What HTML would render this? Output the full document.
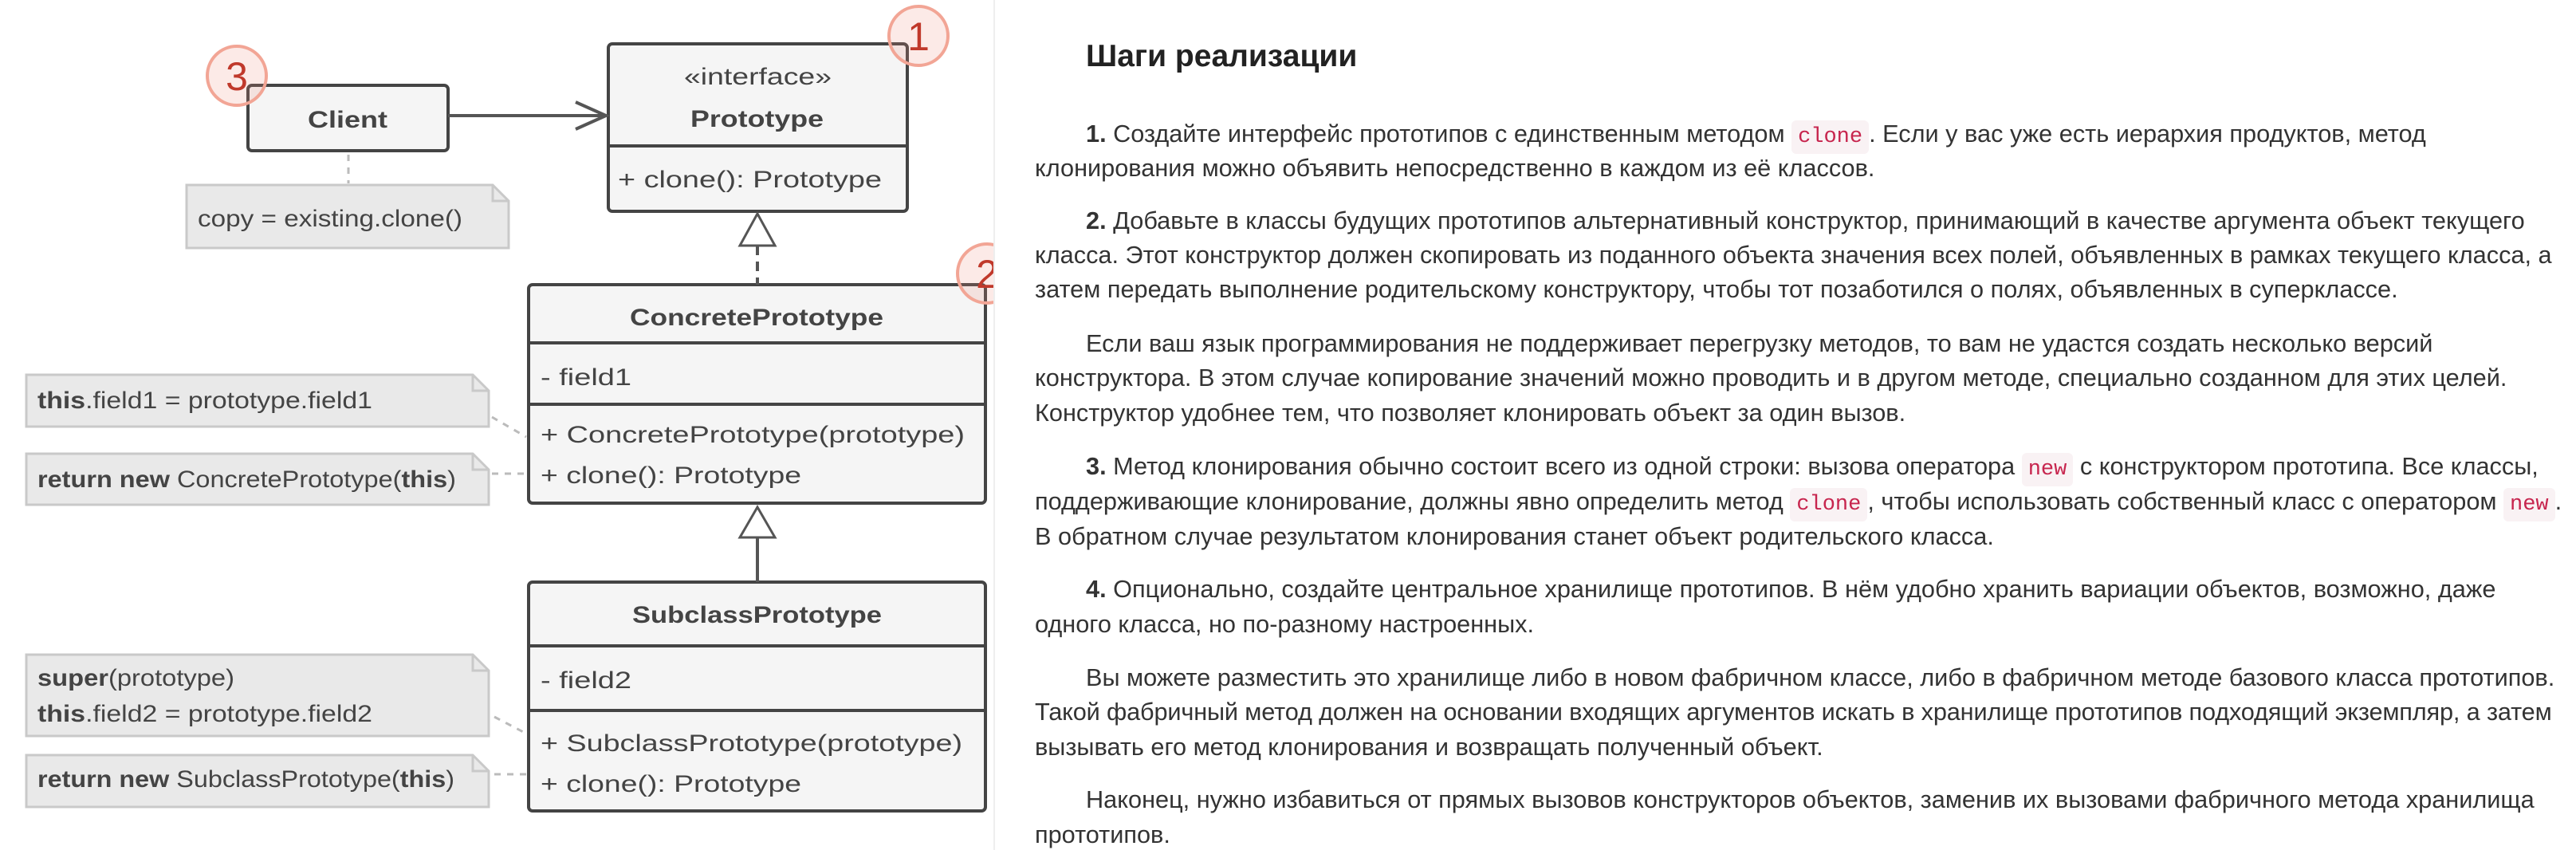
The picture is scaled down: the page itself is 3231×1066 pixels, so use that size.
<!DOCTYPE html>
<html><head><meta charset="utf-8">
<style>
html,body{margin:0;padding:0;background:#fff;}
body{width:3231px;height:1066px;position:relative;overflow:hidden;}
svg{position:absolute;left:0;top:0;}
.l{position:absolute;white-space:nowrap;font-family:"Liberation Sans",Arial,sans-serif;font-size:30.7px;line-height:35px;color:#333;}
.l code{font-family:"Liberation Mono",monospace;font-size:27px;color:#c7254e;background:#f9f2f4;border-radius:6px;padding:6px 8px;}
h2{position:absolute;margin:0;left:1362px;top:50px;font-family:"Liberation Sans",Arial,sans-serif;font-size:39px;line-height:42px;font-weight:bold;color:#222;white-space:nowrap;}
.div{position:absolute;left:1246px;top:0;width:2px;height:1066px;background:#eee;}
</style></head><body>
<svg width="1246" height="1066" viewBox="0 0 1246 1066" font-family="Liberation Sans, Arial, sans-serif" fill="#444">
<g stroke="#444" stroke-width="4" fill="#f5f5f5">
<rect x="311" y="107" width="251" height="82" rx="5"/>
<rect x="763" y="55" width="375" height="210" rx="5"/>
<line x1="763" y1="183" x2="1138" y2="183"/>
<rect x="663" y="357" width="573" height="274" rx="5"/>
<line x1="663" y1="430" x2="1236" y2="430"/>
<line x1="663" y1="507" x2="1236" y2="507"/>
<rect x="663" y="730" width="573" height="287" rx="5"/>
<line x1="663" y1="810" x2="1236" y2="810"/>
<line x1="663" y1="891" x2="1236" y2="891"/>
</g>
<g stroke="#c9c9c9" stroke-width="3" fill="#e9e9e9">
<path d="M234 232 H618 L638 252 V311 H234 Z"/><path d="M618 232 V252 H638" fill="none"/>
<path d="M33 470 H593 L613 490 V535 H33 Z"/><path d="M593 470 V490 H613" fill="none"/>
<path d="M33 569 H593 L613 589 V633 H33 Z"/><path d="M593 569 V589 H613" fill="none"/>
<path d="M33 821 H593 L613 841 V923 H33 Z"/><path d="M593 821 V841 H613" fill="none"/>
<path d="M33 947 H593 L613 967 V1012 H33 Z"/><path d="M593 947 V967 H613" fill="none"/>
</g>
<g stroke="#555" stroke-width="4" fill="none">
<line x1="562" y1="145" x2="758" y2="145"/>
<polyline points="722,128 760,145 722,162"/>
<line x1="950" y1="308" x2="950" y2="357" stroke-dasharray="12,8"/>
<line x1="950" y1="674" x2="950" y2="730"/>
<polygon points="950,268 972,308 928,308" fill="#fff" stroke-width="3"/>
<polygon points="950,636 972,674 928,674" fill="#fff" stroke-width="3"/>
</g>
<g stroke="#bbb" stroke-width="3" stroke-dasharray="8,8" fill="none">
<line x1="437" y1="194" x2="437" y2="230"/>
<line x1="617" y1="523" x2="660" y2="548"/>
<line x1="617" y1="594" x2="660" y2="594"/>
<line x1="620" y1="899" x2="662" y2="921"/>
<line x1="620" y1="971" x2="660" y2="971"/>
</g>
<g font-size="30">
<text x="386" y="160" font-weight="bold" textLength="100" lengthAdjust="spacingAndGlyphs">Client</text>
<text x="858" y="106" textLength="185" lengthAdjust="spacingAndGlyphs">«interface»</text>
<text x="866" y="159" font-weight="bold" textLength="167" lengthAdjust="spacingAndGlyphs">Prototype</text>
<text x="775" y="235" textLength="331" lengthAdjust="spacingAndGlyphs">+ clone(): Prototype</text>
<text x="248" y="284" textLength="332" lengthAdjust="spacingAndGlyphs">copy = existing.clone()</text>
<text x="790" y="408" font-weight="bold" textLength="318" lengthAdjust="spacingAndGlyphs">ConcretePrototype</text>
<text x="678" y="483" textLength="114" lengthAdjust="spacingAndGlyphs">- field1</text>
<text x="678" y="555" textLength="532" lengthAdjust="spacingAndGlyphs">+ ConcretePrototype(prototype)</text>
<text x="678" y="606" textLength="327" lengthAdjust="spacingAndGlyphs">+ clone(): Prototype</text>
<text x="793" y="781" font-weight="bold" textLength="313" lengthAdjust="spacingAndGlyphs">SubclassPrototype</text>
<text x="678" y="863" textLength="114" lengthAdjust="spacingAndGlyphs">- field2</text>
<text x="678" y="942" textLength="529" lengthAdjust="spacingAndGlyphs">+ SubclassPrototype(prototype)</text>
<text x="678" y="993" textLength="327" lengthAdjust="spacingAndGlyphs">+ clone(): Prototype</text>
<text x="47" y="512" textLength="420" lengthAdjust="spacingAndGlyphs"><tspan font-weight="bold">this</tspan>.field1 = prototype.field1</text>
<text x="47" y="611" textLength="525" lengthAdjust="spacingAndGlyphs"><tspan font-weight="bold">return new</tspan> ConcretePrototype(<tspan font-weight="bold">this</tspan>)</text>
<text x="47" y="860" textLength="247" lengthAdjust="spacingAndGlyphs"><tspan font-weight="bold">super</tspan>(prototype)</text>
<text x="47" y="905" textLength="420" lengthAdjust="spacingAndGlyphs"><tspan font-weight="bold">this</tspan>.field2 = prototype.field2</text>
<text x="47" y="987" textLength="523" lengthAdjust="spacingAndGlyphs"><tspan font-weight="bold">return new</tspan> SubclassPrototype(<tspan font-weight="bold">this</tspan>)</text>
</g>
<g>
<circle cx="1152" cy="45" r="37" fill="rgba(240,140,120,0.18)" stroke="#f2a595" stroke-width="4"/>
<text x="1152" y="63" font-size="50" fill="#c0392b" text-anchor="middle">1</text>
<circle cx="297" cy="95" r="37" fill="rgba(240,140,120,0.18)" stroke="#f2a595" stroke-width="4"/>
<text x="297" y="113" font-size="50" fill="#c0392b" text-anchor="middle">3</text>
<circle cx="1238" cy="343" r="37" fill="rgba(240,140,120,0.18)" stroke="#f2a595" stroke-width="4"/>
<text x="1238" y="361" font-size="50" fill="#c0392b" text-anchor="middle">2</text>
</g>
</svg>
<div class="div"></div>
<h2>Шаги реализации</h2>
<div class="l" style="left:1362px;top:150px"><b>1.</b> Создайте интерфейс прототипов с единственным методом <code>clone</code>. Если у вас уже есть иерархия продуктов, метод</div>
<div class="l" style="left:1298px;top:193px">клонирования можно объявить непосредственно в каждом из её классов.</div>
<div class="l" style="left:1362px;top:259px"><b>2.</b> Добавьте в классы будущих прототипов альтернативный конструктор, принимающий в качестве аргумента объект текущего</div>
<div class="l" style="left:1298px;top:302px">класса. Этот конструктор должен скопировать из поданного объекта значения всех полей, объявленных в рамках текущего класса, а</div>
<div class="l" style="left:1298px;top:345px">затем передать выполнение родительскому конструктору, чтобы тот позаботился о полях, объявленных в суперклассе.</div>
<div class="l" style="left:1362px;top:413px">Если ваш язык программирования не поддерживает перегрузку методов, то вам не удастся создать несколько версий</div>
<div class="l" style="left:1298px;top:456px">конструктора. В этом случае копирование значений можно проводить и в другом методе, специально созданном для этих целей.</div>
<div class="l" style="left:1298px;top:500px">Конструктор удобнее тем, что позволяет клонировать объект за один вызов.</div>
<div class="l" style="left:1362px;top:567px"><b>3.</b> Метод клонирования обычно состоит всего из одной строки: вызова оператора <code>new</code> с конструктором прототипа. Все классы,</div>
<div class="l" style="left:1298px;top:611px">поддерживающие клонирование, должны явно определить метод <code>clone</code>, чтобы использовать собственный класс с оператором <code>new</code>.</div>
<div class="l" style="left:1298px;top:655px">В обратном случае результатом клонирования станет объект родительского класса.</div>
<div class="l" style="left:1362px;top:721px"><b>4.</b> Опционально, создайте центральное хранилище прототипов. В нём удобно хранить вариации объектов, возможно, даже</div>
<div class="l" style="left:1298px;top:765px">одного класса, но по-разному настроенных.</div>
<div class="l" style="left:1362px;top:832px">Вы можете разместить это хранилище либо в новом фабричном классе, либо в фабричном методе базового класса прототипов.</div>
<div class="l" style="left:1298px;top:875px;letter-spacing:-0.15px">Такой фабричный метод должен на основании входящих аргументов искать в хранилище прототипов подходящий экземпляр, а затем</div>
<div class="l" style="left:1298px;top:919px">вызывать его метод клонирования и возвращать полученный объект.</div>
<div class="l" style="left:1362px;top:985px">Наконец, нужно избавиться от прямых вызовов конструкторов объектов, заменив их вызовами фабричного метода хранилища</div>
<div class="l" style="left:1298px;top:1029px">прототипов.</div>
</body></html>
